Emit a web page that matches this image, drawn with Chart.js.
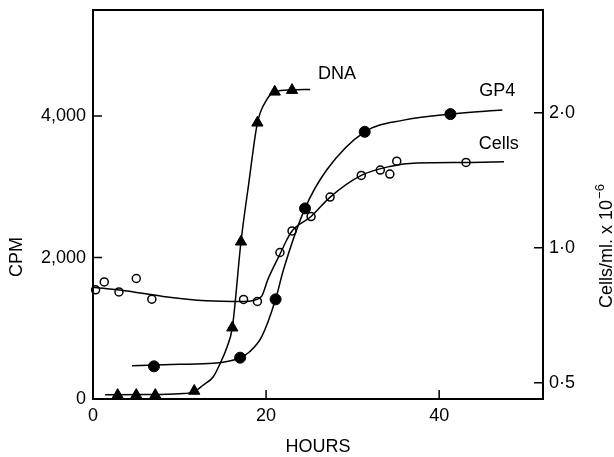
<!DOCTYPE html>
<html>
<head>
<meta charset="utf-8">
<script src="https://cdn.jsdelivr.net/npm/chart.js@4.4.0/dist/chart.umd.min.js"></script>
<style>
  html, body { margin: 0; padding: 0; background: #fff; }
</style>
</head>
<body>
<canvas id="chart" width="614" height="457"></canvas>
<script>
// Axis ticks
const hourTicks = [0, 20, 40]
const cpmTicks = [0, 2000, 4000]
const cellTicks = [0.5, 1.0, 2.0]

// Measured points (hours / value)
const dnaHours = [2.85, 5.0, 7.2, 11.7, 16.1, 17.1, 19.0, 21.0, 23.0]
const dnaCpm = [55, 55, 55, 113, 1008, 2223, 3905, 4343, 4367]

const gp4Hours = [7.05, 17.0, 21.1, 24.5, 31.4, 41.3]
const gp4Cpm = [462, 584, 1409, 2695, 3778, 4028]

const cellHours = [0.3, 1.3, 3.0, 5.0, 6.8, 17.4, 19.0, 21.6, 23.0, 25.2, 27.4, 31.0, 33.2, 34.3, 35.1, 43.1]
const cellCount = [0.806, 0.839, 0.797, 0.854, 0.768, 0.767, 0.759, 0.976, 1.09, 1.174, 1.297, 1.45, 1.49, 1.46, 1.56, 1.55]

// Fitted curves as drawn in the figure
const dnaCurveHours = [1.4, 6, 10, 11.7, 12.75, 13.9, 14.7, 15.5, 16.1, 17.1, 18.0, 19.0, 20.1, 21.0, 23.0, 25.1]
const dnaCurveCpm = [60, 62, 75, 105, 198, 315, 505, 740, 1008, 2223, 3049, 3905, 4236, 4343, 4370, 4377]

const gp4CurveHours = [4.5, 10, 13.9, 17.0, 18.1, 19.5, 21.1, 22.0, 24.5, 27.0, 31.4, 35.9, 41.3, 47.3]
const gp4CurveCpm = [471, 490, 504, 584, 669, 881, 1409, 1823, 2695, 3237, 3778, 3943, 4028, 4085]

const cellCurveHours = [0, 3.5, 8.1, 13.1, 17.4, 18.6, 19.5, 20.2, 21.7, 22.4, 23.0, 25.2, 27.4, 31.0, 34.3, 37.4, 43.1, 47.5]
const cellCurveCount = [0.817, 0.803, 0.779, 0.762, 0.759, 0.764, 0.78, 0.849, 0.976, 1.042, 1.09, 1.174, 1.297, 1.45, 1.518, 1.545, 1.55, 1.556]

const seriesLabels = [
  { text: 'DNA', x: 28.2, y: 4594 },
  { text: 'GP4', x: 46.7, y: 4357 },
  { text: 'Cells', x: 46.9, y: 3604 }
]

const FONT = '"Liberation Sans", Arial, sans-serif'
const SIZE = 18
const pairs = (xs, ys) => xs.map((x, i) => ({ x: x, y: ys[i] }))

const curve = (xs, ys, axis) => ({
  data: pairs(xs, ys),
  yAxisID: axis,
  borderColor: '#000',
  borderWidth: 1.5,
  pointRadius: 0,
  cubicInterpolationMode: 'monotone',
  fill: false
})

const marks = (xs, ys, axis, style) => Object.assign({
  data: pairs(xs, ys),
  yAxisID: axis,
  showLine: false,
  clip: false,
  pointBorderColor: '#000'
}, style)

// fixed gutter sizes, no label overhang padding
const fixSize = (w, h) => s => {
  if (w !== null) s.width = w
  if (h !== null) s.height = h
  s.paddingTop = 0
  s.paddingBottom = 0
  s.paddingLeft = 0
  s.paddingRight = 0
}

const framePlugin = {
  id: 'frame',
  afterDraw(chart) {
    const ctx = chart.ctx
    const a = chart.chartArea
    const sx = chart.scales.x, sy = chart.scales.y, sc = chart.scales.y1
    ctx.save()
    ctx.strokeStyle = '#000'
    ctx.lineWidth = 2
    ctx.strokeRect(a.left, a.top, a.right - a.left, a.bottom - a.top)

    // inward tick marks
    ctx.lineWidth = 1.5
    ctx.beginPath()
    cpmTicks.forEach(v => {
      const py = sy.getPixelForValue(v)
      ctx.moveTo(a.left, py); ctx.lineTo(a.left + 9, py)
    })
    cellTicks.forEach(v => {
      const py = sc.getPixelForValue(v)
      ctx.moveTo(a.right, py); ctx.lineTo(a.right - 9, py)
    })
    hourTicks.forEach(v => {
      const px = sx.getPixelForValue(v)
      ctx.moveTo(px, a.bottom); ctx.lineTo(px, a.bottom - 9)
    })
    ctx.stroke()

    ctx.fillStyle = '#000'
    ctx.font = SIZE + 'px ' + FONT
    ctx.textAlign = 'center'
    ctx.textBaseline = 'middle'

    seriesLabels.forEach(l => {
      ctx.fillText(l.text, sx.getPixelForValue(l.x), sy.getPixelForValue(l.y))
    })

    ctx.fillText('HOURS', (a.left + a.right) / 2, 447)

    ctx.save()
    ctx.translate(17, 257)
    ctx.rotate(-Math.PI / 2)
    ctx.fillText('CPM', 0, 0)
    ctx.restore()

    // right axis title with superscript
    ctx.save()
    ctx.translate(607, 246)
    ctx.rotate(-Math.PI / 2)
    ctx.textAlign = 'left'
    const main = 'Cells/ml. x 10'
    const sup = '\u22126'
    ctx.font = SIZE + 'px ' + FONT
    const w1 = ctx.measureText(main).width
    ctx.font = '13px ' + FONT
    const w2 = ctx.measureText(sup).width
    const x0 = -(w1 + w2 + 1) / 2
    ctx.font = SIZE + 'px ' + FONT
    ctx.fillText(main, x0, 0)
    ctx.font = '13px ' + FONT
    ctx.fillText(sup, x0 + w1 + 1, -7)
    ctx.restore()

    ctx.restore()
  }
}

new Chart(document.getElementById('chart'), {
  type: 'line',
  data: {
    datasets: [
      curve(dnaCurveHours, dnaCurveCpm, 'y'),
      curve(gp4CurveHours, gp4CurveCpm, 'y'),
      curve(cellCurveHours, cellCurveCount, 'y1'),
      marks(dnaHours, dnaCpm, 'y', {
        pointStyle: 'triangle', pointRadius: 6.5, pointBackgroundColor: '#000', pointBorderWidth: 1
      }),
      marks(gp4Hours, gp4Cpm, 'y', {
        pointStyle: 'circle', pointRadius: 5.5, pointBackgroundColor: '#000', pointBorderWidth: 1
      }),
      marks(cellHours, cellCount, 'y1', {
        pointStyle: 'circle', pointRadius: 4, pointBackgroundColor: '#fff', pointBorderWidth: 1.5
      })
    ]
  },
  options: {
    responsive: false,
    animation: false,
    layout: { padding: { top: 10, left: 0, right: 0, bottom: 0 } },
    plugins: {
      legend: { display: false },
      tooltip: { enabled: false }
    },
    scales: {
      x: {
        type: 'linear',
        position: 'bottom',
        min: 0,
        max: 52,
        afterBuildTicks: s => { s.ticks = hourTicks.map(v => ({ value: v })) },
        afterFit: fixSize(null, 58),
        grid: { display: false, drawTicks: false },
        border: { display: false },
        ticks: { color: '#000', padding: 6, maxRotation: 0, font: { family: FONT, size: SIZE } }
      },
      y: {
        type: 'linear',
        position: 'left',
        min: 0,
        max: 5500,
        afterBuildTicks: s => { s.ticks = cpmTicks.map(v => ({ value: v })) },
        afterFit: fixSize(93, null),
        grid: { display: false, drawTicks: false },
        border: { display: false },
        ticks: {
          color: '#000', padding: 7, font: { family: FONT, size: SIZE },
          callback: v => v.toLocaleString('en-US')
        }
      },
      y1: {
        type: 'logarithmic',
        position: 'right',
        min: 0.46,
        max: 3.39,
        afterBuildTicks: s => { s.ticks = cellTicks.map(v => ({ value: v })) },
        afterFit: fixSize(71, null),
        grid: { display: false, drawTicks: false },
        border: { display: false },
        ticks: {
          color: '#000', padding: 6, font: { family: FONT, size: SIZE },
          callback: v => v.toFixed(1).replace('.', '\u00b7')
        }
      }
    }
  },
  plugins: [framePlugin]
})
</script>
</body>
</html>
